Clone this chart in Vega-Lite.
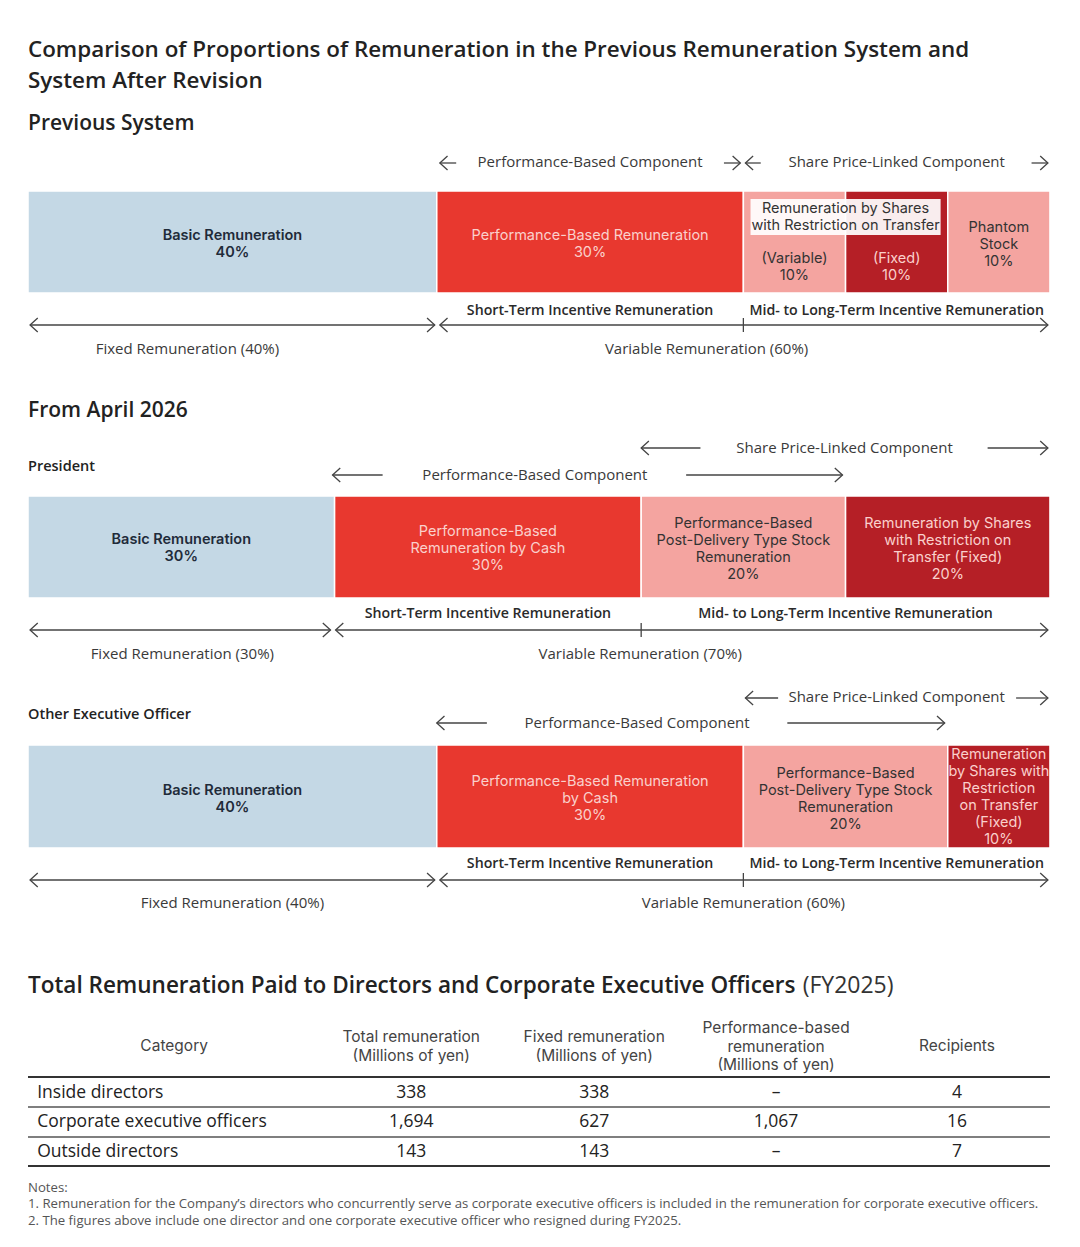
{
  "$schema": "https://vega.github.io/schema/vega-lite/v6.json",
  "width": 1080,
  "height": 1247,
  "autosize": {"type": "fit", "contains": "padding"},
  "padding": 0,
  "background": "white",
  "config": {"view": {"stroke": null}, "font": "Open Sans"},
  "datasets": {
    "bars": [
      {"system": "Previous", "part": "Basic Remuneration", "type": "Basic", "x": 0, "x2": 40, "y": 191, "y2": 293},
      {"system": "Previous", "part": "Performance-Based Remuneration", "type": "Cash", "x": 40, "x2": 70, "y": 191, "y2": 293},
      {"system": "Previous", "part": "Restricted Shares (Variable)", "type": "Stock", "x": 70, "x2": 80, "y": 191, "y2": 293},
      {"system": "Previous", "part": "Restricted Shares (Fixed)", "type": "Fixed", "x": 80, "x2": 90, "y": 191, "y2": 293},
      {"system": "Previous", "part": "Phantom Stock", "type": "Stock", "x": 90, "x2": 100, "y": 191, "y2": 293},
      {"system": "President", "part": "Basic Remuneration", "type": "Basic", "x": 0, "x2": 30, "y": 496, "y2": 598},
      {"system": "President", "part": "Performance-Based Remuneration by Cash", "type": "Cash", "x": 30, "x2": 60, "y": 496, "y2": 598},
      {"system": "President", "part": "Post-Delivery Type Stock", "type": "Stock", "x": 60, "x2": 80, "y": 496, "y2": 598},
      {"system": "President", "part": "Restricted Shares (Fixed)", "type": "Fixed", "x": 80, "x2": 100, "y": 496, "y2": 598},
      {"system": "Other", "part": "Basic Remuneration", "type": "Basic", "x": 0, "x2": 40, "y": 745, "y2": 848},
      {"system": "Other", "part": "Performance-Based Remuneration by Cash", "type": "Cash", "x": 40, "x2": 70, "y": 745, "y2": 848},
      {"system": "Other", "part": "Post-Delivery Type Stock", "type": "Stock", "x": 70, "x2": 90, "y": 745, "y2": 848},
      {"system": "Other", "part": "Restricted Shares (Fixed)", "type": "Fixed", "x": 90, "x2": 100, "y": 745, "y2": 848}
    ],
    "boxes": [
      {"x": 70.7, "x2": 89.3, "y": 199, "y2": 235}
    ],
    "lines": [
      {"kind": "arrow", "x": 40.3, "x2": 41.9, "y": 163, "lh": true, "rh": false},
      {"kind": "arrow", "x": 68.1, "x2": 69.7, "y": 163, "lh": false, "rh": true},
      {"kind": "arrow", "x": 70.2, "x2": 71.7, "y": 163, "lh": true, "rh": false},
      {"kind": "arrow", "x": 98.2, "x2": 99.8, "y": 163, "lh": false, "rh": true},
      {"kind": "arrow", "x": 0.2, "x2": 39.8, "y": 325, "lh": true, "rh": true},
      {"kind": "arrow", "x": 40.3, "x2": 99.8, "y": 325, "lh": true, "rh": true},
      {"kind": "arrow", "x": 60.0, "x2": 65.8, "y": 448, "lh": true, "rh": false},
      {"kind": "arrow", "x": 93.9, "x2": 99.8, "y": 448, "lh": false, "rh": true},
      {"kind": "arrow", "x": 29.8, "x2": 34.7, "y": 475, "lh": true, "rh": false},
      {"kind": "arrow", "x": 64.4, "x2": 79.7, "y": 475, "lh": false, "rh": true},
      {"kind": "arrow", "x": 0.2, "x2": 29.6, "y": 630, "lh": true, "rh": true},
      {"kind": "arrow", "x": 30.1, "x2": 99.8, "y": 630, "lh": true, "rh": true},
      {"kind": "arrow", "x": 70.2, "x2": 73.4, "y": 698, "lh": true, "rh": false},
      {"kind": "arrow", "x": 96.7, "x2": 99.8, "y": 698, "lh": false, "rh": true},
      {"kind": "arrow", "x": 40.0, "x2": 44.9, "y": 723, "lh": true, "rh": false},
      {"kind": "arrow", "x": 74.3, "x2": 89.7, "y": 723, "lh": false, "rh": true},
      {"kind": "arrow", "x": 0.2, "x2": 39.8, "y": 880, "lh": true, "rh": true},
      {"kind": "arrow", "x": 40.3, "x2": 99.8, "y": 880, "lh": true, "rh": true},
      {"kind": "tableTop", "x": 0, "x2": 100, "y": 1077, "lh": false, "rh": false},
      {"kind": "tableRow", "x": 0, "x2": 100, "y": 1107, "lh": false, "rh": false},
      {"kind": "tableRow", "x": 0, "x2": 100, "y": 1137, "lh": false, "rh": false},
      {"kind": "tableTop", "x": 0, "x2": 100, "y": 1166, "lh": false, "rh": false}
    ],
    "ticks": [
      {"x": 70, "y": 318, "y2": 332},
      {"x": 60, "y": 623, "y2": 637},
      {"x": 70, "y": 873, "y2": 887}
    ],
    "texts": [
      {"role": "title", "x": 0, "y": 50, "text": "Comparison of Proportions of Remuneration in the Previous Remuneration System and"},
      {"role": "title", "x": 0, "y": 81, "text": "System After Revision"},
      {"role": "section", "x": 0, "y": 124, "text": "Previous System"},
      {"role": "section", "x": 0, "y": 411, "text": "From April 2026"},
      {"role": "group", "x": 0, "y": 467, "text": "President"},
      {"role": "group", "x": 0, "y": 715, "text": "Other Executive Officer"},
      {"role": "component", "x": 55.0, "y": 162, "text": "Performance-Based Component"},
      {"role": "component", "x": 85.0, "y": 162, "text": "Share Price-Linked Component"},
      {"role": "component", "x": 79.9, "y": 448, "text": "Share Price-Linked Component"},
      {"role": "component", "x": 49.6, "y": 475, "text": "Performance-Based Component"},
      {"role": "component", "x": 85.0, "y": 697, "text": "Share Price-Linked Component"},
      {"role": "component", "x": 59.6, "y": 723, "text": "Performance-Based Component"},
      {"role": "term", "x": 55, "y": 311, "text": "Short-Term Incentive Remuneration"},
      {"role": "term", "x": 85, "y": 311, "text": "Mid- to Long-Term Incentive Remuneration"},
      {"role": "term", "x": 45, "y": 614, "text": "Short-Term Incentive Remuneration"},
      {"role": "term", "x": 80, "y": 614, "text": "Mid- to Long-Term Incentive Remuneration"},
      {"role": "term", "x": 55, "y": 864, "text": "Short-Term Incentive Remuneration"},
      {"role": "term", "x": 85, "y": 864, "text": "Mid- to Long-Term Incentive Remuneration"},
      {"role": "component", "x": 15.6, "y": 349, "text": "Fixed Remuneration (40%)"},
      {"role": "component", "x": 66.4, "y": 349, "text": "Variable Remuneration (60%)"},
      {"role": "component", "x": 15.1, "y": 654, "text": "Fixed Remuneration (30%)"},
      {"role": "component", "x": 59.9, "y": 654, "text": "Variable Remuneration (70%)"},
      {"role": "component", "x": 20.0, "y": 903, "text": "Fixed Remuneration (40%)"},
      {"role": "component", "x": 70.0, "y": 903, "text": "Variable Remuneration (60%)"},
      {"role": "barNavy", "x": 20, "y": 236, "text": "Basic Remuneration\n40%"},
      {"role": "barLight", "x": 55, "y": 236, "text": "Performance-Based Remuneration\n30%"},
      {"role": "barDark", "x": 80, "y": 209, "text": "Remuneration by Shares\nwith Restriction on Transfer"},
      {"role": "barDark", "x": 75, "y": 259, "text": "(Variable)\n10%"},
      {"role": "barLight", "x": 85, "y": 259, "text": "(Fixed)\n10%"},
      {"role": "barDark", "x": 95, "y": 228, "text": "Phantom\nStock\n10%"},
      {"role": "barNavy", "x": 15, "y": 540, "text": "Basic Remuneration\n30%"},
      {"role": "barLight", "x": 45, "y": 532, "text": "Performance-Based\nRemuneration by Cash\n30%"},
      {"role": "barDark", "x": 70, "y": 524, "text": "Performance-Based\nPost-Delivery Type Stock\nRemuneration\n20%"},
      {"role": "barLight", "x": 90, "y": 524, "text": "Remuneration by Shares\nwith Restriction on\nTransfer (Fixed)\n20%"},
      {"role": "barNavy", "x": 20, "y": 791, "text": "Basic Remuneration\n40%"},
      {"role": "barLight", "x": 55, "y": 782, "text": "Performance-Based Remuneration\nby Cash\n30%"},
      {"role": "barDark", "x": 80, "y": 774, "text": "Performance-Based\nPost-Delivery Type Stock\nRemuneration\n20%"},
      {"role": "barLight", "x": 95, "y": 755, "text": "Remuneration\nby Shares with\nRestriction\non Transfer\n(Fixed)\n10%"},
      {"role": "tableTitle", "x": 0, "y": 986, "text": "Total Remuneration Paid to Directors and Corporate Executive Officers"},
      {"role": "tableTitleYear", "x": 75.8, "y": 986, "text": "(FY2025)"},
      {"role": "th", "x": 14.3, "y": 1046, "text": "Category"},
      {"role": "th", "x": 37.5, "y": 1037, "text": "Total remuneration\n(Millions of yen)"},
      {"role": "th", "x": 55.4, "y": 1037, "text": "Fixed remuneration\n(Millions of yen)"},
      {"role": "th", "x": 73.2, "y": 1028, "text": "Performance-based\nremuneration\n(Millions of yen)"},
      {"role": "th", "x": 90.9, "y": 1046, "text": "Recipients"},
      {"role": "tdLeft", "x": 0.9, "y": 1093, "text": "Inside directors"},
      {"role": "td", "x": 37.5, "y": 1093, "text": "338"},
      {"role": "td", "x": 55.4, "y": 1093, "text": "338"},
      {"role": "td", "x": 73.2, "y": 1093, "text": "–"},
      {"role": "td", "x": 90.9, "y": 1093, "text": "4"},
      {"role": "tdLeft", "x": 0.9, "y": 1122, "text": "Corporate executive officers"},
      {"role": "td", "x": 37.5, "y": 1122, "text": "1,694"},
      {"role": "td", "x": 55.4, "y": 1122, "text": "627"},
      {"role": "td", "x": 73.2, "y": 1122, "text": "1,067"},
      {"role": "td", "x": 90.9, "y": 1122, "text": "16"},
      {"role": "tdLeft", "x": 0.9, "y": 1152, "text": "Outside directors"},
      {"role": "td", "x": 37.5, "y": 1152, "text": "143"},
      {"role": "td", "x": 55.4, "y": 1152, "text": "143"},
      {"role": "td", "x": 73.2, "y": 1152, "text": "–"},
      {"role": "td", "x": 90.9, "y": 1152, "text": "7"},
      {"role": "note", "x": 0, "y": 1188, "text": "Notes:"},
      {"role": "note", "x": 0, "y": 1204, "text": "1. Remuneration for the Company’s directors who concurrently serve as corporate executive officers is included in the remuneration for corporate executive officers."},
      {"role": "note", "x": 0, "y": 1221, "text": "2. The figures above include one director and one corporate executive officer who resigned during FY2025."}
    ]
  },
  "encoding": {
    "x": {"field": "x", "type": "quantitative", "scale": {"domain": [-2.74, 102.94], "nice": false, "zero": false}, "axis": null},
    "y": {"field": "y", "type": "quantitative", "scale": {"domain": [0, 1247], "reverse": true, "nice": false, "zero": false}, "axis": null}
  },
  "layer": [
    {
      "data": {"name": "bars"},
      "mark": {"type": "rect", "stroke": "white", "strokeWidth": 1.5},
      "encoding": {
        "x2": {"field": "x2"},
        "y2": {"field": "y2"},
        "color": {"field": "type", "type": "nominal", "scale": {"domain": ["Basic", "Cash", "Stock", "Fixed"], "range": ["#c4d8e5", "#e8382f", "#f4a4a0", "#b51f26"]}, "legend": null}
      }
    },
    {
      "data": {"name": "boxes"},
      "mark": {"type": "rect", "fill": "white", "opacity": 0.92},
      "encoding": {"x2": {"field": "x2"}, "y2": {"field": "y2"}}
    },
    {
      "data": {"name": "lines"},
      "transform": [{"filter": "datum.kind === 'arrow'"}],
      "mark": {"type": "rule", "stroke": "#444444", "strokeWidth": 1.3},
      "encoding": {"x2": {"field": "x2"}}
    },
    {
      "data": {"name": "lines"},
      "transform": [{"filter": "datum.lh"}],
      "mark": {"type": "point", "filled": false, "stroke": "#444444", "strokeWidth": 1.3, "opacity": 1, "size": 196, "shape": "M1.1,-1L0,0L1.1,1"},
      "encoding": {}
    },
    {
      "data": {"name": "lines"},
      "transform": [{"filter": "datum.rh"}],
      "mark": {"type": "point", "filled": false, "stroke": "#444444", "strokeWidth": 1.3, "opacity": 1, "size": 196, "shape": "M-1.1,-1L0,0L-1.1,1"},
      "encoding": {"x": {"field": "x2", "type": "quantitative"}}
    },
    {
      "data": {"name": "ticks"},
      "mark": {"type": "rule", "stroke": "#444444", "strokeWidth": 1.3},
      "encoding": {"y2": {"field": "y2"}}
    },
    {
      "data": {"name": "lines"},
      "transform": [{"filter": "datum.kind === 'tableTop'"}],
      "mark": {"type": "rule", "stroke": "#333333", "strokeWidth": 2.2},
      "encoding": {"x2": {"field": "x2"}}
    },
    {
      "data": {"name": "lines"},
      "transform": [{"filter": "datum.kind === 'tableRow'"}],
      "mark": {"type": "rule", "stroke": "#555555", "strokeWidth": 1.6},
      "encoding": {"x2": {"field": "x2"}}
    },
    {
      "data": {"name": "texts"},
      "transform": [{"filter": "datum.role === 'title'"}],
      "mark": {"type": "text", "align": "left", "baseline": "middle", "fontSize": 22.4, "fontWeight": 600, "color": "#222222"},
      "encoding": {"text": {"field": "text"}}
    },
    {
      "data": {"name": "texts"},
      "transform": [{"filter": "datum.role === 'section'"}],
      "mark": {"type": "text", "align": "left", "baseline": "middle", "fontSize": 21, "fontWeight": 600, "color": "#222222"},
      "encoding": {"text": {"field": "text"}}
    },
    {
      "data": {"name": "texts"},
      "transform": [{"filter": "datum.role === 'group'"}],
      "mark": {"type": "text", "align": "left", "baseline": "middle", "fontSize": 14.5, "fontWeight": 600, "color": "#222222"},
      "encoding": {"text": {"field": "text"}}
    },
    {
      "data": {"name": "texts"},
      "transform": [{"filter": "datum.role === 'component'"}],
      "mark": {"type": "text", "align": "center", "baseline": "middle", "fontSize": 15, "color": "#3a3a3a"},
      "encoding": {"text": {"field": "text"}}
    },
    {
      "data": {"name": "texts"},
      "transform": [{"filter": "datum.role === 'term'"}],
      "mark": {"type": "text", "align": "center", "baseline": "middle", "fontSize": 14.2, "fontWeight": 600, "color": "#2a2a2a"},
      "encoding": {"text": {"field": "text"}}
    },
    {
      "data": {"name": "texts"},
      "transform": [{"filter": "datum.role === 'barNavy'"}],
      "mark": {"type": "text", "font": "Inter", "align": "center", "baseline": "middle", "fontSize": 14.5, "fontWeight": 600, "color": "#1f2b3a", "lineBreak": "\n", "lineHeight": 17},
      "encoding": {"text": {"field": "text"}}
    },
    {
      "data": {"name": "texts"},
      "transform": [{"filter": "datum.role === 'barDark'"}],
      "mark": {"type": "text", "font": "Inter", "align": "center", "baseline": "middle", "fontSize": 14.5, "color": "#333333", "lineBreak": "\n", "lineHeight": 17},
      "encoding": {"text": {"field": "text"}}
    },
    {
      "data": {"name": "texts"},
      "transform": [{"filter": "datum.role === 'barLight'"}],
      "mark": {"type": "text", "font": "Inter", "align": "center", "baseline": "middle", "fontSize": 14.5, "color": "#fad0cc", "lineBreak": "\n", "lineHeight": 17},
      "encoding": {"text": {"field": "text"}}
    },
    {
      "data": {"name": "texts"},
      "transform": [{"filter": "datum.role === 'tableTitle'"}],
      "mark": {"type": "text", "align": "left", "baseline": "middle", "fontSize": 22.5, "fontWeight": 600, "color": "#222222"},
      "encoding": {"text": {"field": "text"}}
    },
    {
      "data": {"name": "texts"},
      "transform": [{"filter": "datum.role === 'tableTitleYear'"}],
      "mark": {"type": "text", "align": "left", "baseline": "middle", "fontSize": 23, "color": "#333333"},
      "encoding": {"text": {"field": "text"}}
    },
    {
      "data": {"name": "texts"},
      "transform": [{"filter": "datum.role === 'th'"}],
      "mark": {"type": "text", "font": "Inter", "align": "center", "baseline": "middle", "fontSize": 15.5, "color": "#444444", "lineBreak": "\n", "lineHeight": 18.5},
      "encoding": {"text": {"field": "text"}}
    },
    {
      "data": {"name": "texts"},
      "transform": [{"filter": "datum.role === 'tdLeft'"}],
      "mark": {"type": "text", "align": "left", "baseline": "middle", "fontSize": 17.5, "color": "#222222"},
      "encoding": {"text": {"field": "text"}}
    },
    {
      "data": {"name": "texts"},
      "transform": [{"filter": "datum.role === 'td'"}],
      "mark": {"type": "text", "align": "center", "baseline": "middle", "fontSize": 17.5, "color": "#222222"},
      "encoding": {"text": {"field": "text"}}
    },
    {
      "data": {"name": "texts"},
      "transform": [{"filter": "datum.role === 'note'"}],
      "mark": {"type": "text", "align": "left", "baseline": "middle", "fontSize": 13.2, "color": "#555555"},
      "encoding": {"text": {"field": "text"}}
    }
  ]
}
